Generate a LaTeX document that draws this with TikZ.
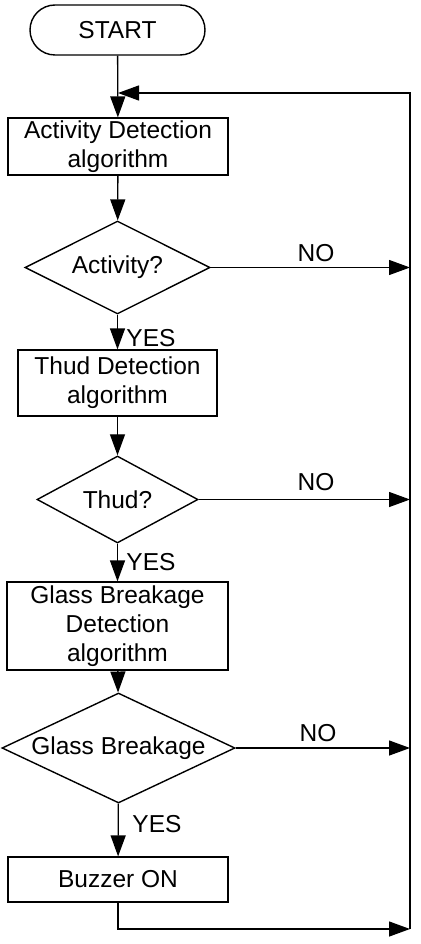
\documentclass[tikz,border=0pt]{standalone}
\usepackage{fontspec}
\setmainfont{Liberation Sans}
\usetikzlibrary{shapes.geometric,arrows.meta}

\tikzset{
    flow/.style={line width=1.3pt, -{Triangle[length=21pt,width=15pt]}},
    procbox/.style={draw, line width=1.2pt, rectangle, align=center, inner sep=0pt},
    decision/.style={draw, line width=1.4pt, diamond, aspect=2.2, inner sep=0pt},
    branch/.style={font=\fontsize{24.5}{29}\selectfont}
}

\begin{document}
\begin{tikzpicture}[x=1pt, y=-1pt, font=\fontsize{24.5}{29}\selectfont]
    % Fix the page to the reference size
    \useasboundingbox (0,0) rectangle (420,944);

    % Define the nodes of the flow
    \node[draw, line width=1.4pt, rounded corners=25pt, minimum width=175pt, minimum height=50pt] (start) at (117.5,30) {START};
    \node[procbox, minimum width=220pt, minimum height=57pt] (actdet) at (118,146.5) {Activity Detection\\algorithm};
    \node[decision, minimum width=185pt, minimum height=93pt] (actq) at (117.5,267.5) {Activity?};
    \node[procbox, minimum width=199pt, minimum height=66pt] (thuddet) at (117.5,383) {Thud Detection\\algorithm};
    \node[decision, minimum width=161pt, minimum height=87pt] (thudq) at (117.5,499.5) {Thud?};
    \node[procbox, minimum width=221pt, minimum height=88pt] (glassdet) at (117.5,626) {Glass Breakage\\Detection\\algorithm};
    \node[decision, minimum width=233pt, minimum height=110pt] (glassq) at (118.5,748) {Glass Breakage};
    \node[procbox, minimum width=220pt, minimum height=45pt] (buzzer) at (118,879.5) {Buzzer ON};

    % Points of the return loop
    \coordinate (loopjoin) at (118,93);
    \coordinate (looptop) at (410,93);
    \coordinate (loopbot) at (410,929);

    % Main path down the chart
    \draw[flow] (start) -- (actdet);
    \draw[flow] (actdet) -- (actq);
    \draw[flow] (actq) -- (thuddet);
    \draw[flow] (thuddet) -- (thudq);
    \draw[flow] (thudq) -- (glassdet);
    \draw[flow] (glassdet) -- (glassq);
    \draw[flow] (glassq) -- (buzzer);

    % NO branches to the loop line
    \draw[flow] (actq.east) -- (actq.east -| looptop);
    \draw[flow] (thudq.east) -- (thudq.east -| looptop);
    \draw[flow] (glassq.east) -- (glassq.east -| looptop);

    % Return loop
    \draw[flow] (buzzer.south) |- (loopbot);
    \draw[flow] (loopbot) -- (looptop) -- (loopjoin);

    % Branch labels
    \node[branch] (no1) at (316,253) {NO};
    \node[branch] (no2) at (316,482) {NO};
    \node[branch] (no3) at (318,733) {NO};
    \node[branch] (yes1) at (151,338) {YES};
    \node[branch] (yes2) at (151,562) {YES};
    \node[branch] (yes3) at (157,824) {YES};
\end{tikzpicture}
\end{document}
